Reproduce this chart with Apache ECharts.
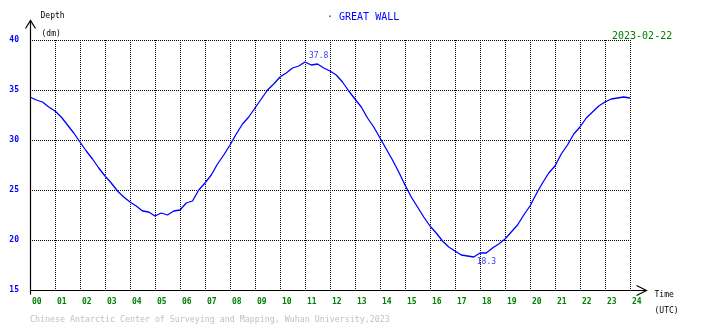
<!DOCTYPE html>
<html>
<head>
<meta charset="utf-8">
<style>
  html, body { margin: 0; padding: 0; background: #fff; }
  #chart { width: 710px; height: 328px; }
</style>
<script src="https://cdn.jsdelivr.net/npm/echarts@6/dist/echarts.min.js"></script>
</head>
<body>
<div id="chart"></div>
<script>
// Tide gauge record, Great Wall Station, 2023-02-22 (UTC)
const stationName = 'GREAT WALL';
const dateLabel = '2023-02-22';
const creditLine = 'Chinese Antarctic Center of Surveying and Mapping, Wuhan University,2023';

// time of each reading, hours UTC
const hours = [
  0, 0.25, 0.5, 0.75, 1, 1.25, 1.5, 1.75, 2, 2.25, 2.5, 2.75,
  3, 3.25, 3.5, 3.75, 4, 4.25, 4.5, 4.75, 5, 5.25, 5.5, 5.75,
  6, 6.25, 6.5, 6.75, 7, 7.25, 7.5, 7.75, 8, 8.25, 8.5, 8.75,
  9, 9.25, 9.5, 9.75, 10, 10.25, 10.5, 10.75, 11, 11.25, 11.5, 11.75,
  12, 12.25, 12.5, 12.75, 13, 13.25, 13.5, 13.75, 14, 14.25, 14.5, 14.75,
  15, 15.25, 15.5, 15.75, 16, 16.25, 16.5, 16.75, 17, 17.25, 17.5, 17.75,
  18, 18.25, 18.5, 18.75, 19, 19.25, 19.5, 19.75, 20, 20.25, 20.5, 20.75,
  21, 21.25, 21.5, 21.75, 22, 22.25, 22.5, 22.75, 23, 23.25, 23.5, 23.75, 24
];

// water depth, dm
const depth = [
  34.3, 34.0, 33.8, 33.3, 32.9, 32.3, 31.5, 30.7, 29.8, 28.9, 28.1, 27.2,
  26.4, 25.7, 24.9, 24.3, 23.8, 23.4, 22.9, 22.8, 22.4, 22.7, 22.5, 22.9,
  23.0, 23.7, 23.9, 25.0, 25.7, 26.5, 27.6, 28.5, 29.5, 30.6, 31.6, 32.3,
  33.2, 34.1, 35.0, 35.6, 36.3, 36.7, 37.2, 37.4, 37.8, 37.5, 37.6, 37.2,
  36.9, 36.5, 35.8, 34.9, 34.1, 33.3, 32.2, 31.3, 30.2, 29.1, 28.0, 26.8,
  25.5, 24.3, 23.3, 22.3, 21.4, 20.7, 19.9, 19.3, 18.9, 18.5, 18.4, 18.3,
  18.7, 18.7, 19.2, 19.6, 20.1, 20.8, 21.5, 22.5, 23.4, 24.6, 25.7, 26.7,
  27.4, 28.6, 29.5, 30.6, 31.3, 32.2, 32.8, 33.4, 33.8, 34.1, 34.2, 34.3, 34.2
];

// axis ranges and tick steps
const xMin = 0, xMax = 24, xStep = 1;
const yMin = 15, yMax = 40, yStep = 5;

const MONO = '"DejaVu Sans Mono", "Liberation Mono", monospace';
const BLUE = '#0000ff';
const GREEN = '#008000';

const series = hours.map((h, i) => [h, depth[i]]);

// extremes of the record, labelled on the curve
let iMax = 0, iMin = 0;
depth.forEach((v, i) => {
  if (v > depth[iMax]) iMax = i;
  if (v < depth[iMin]) iMin = i;
});

const chart = echarts.init(document.getElementById('chart'), null, { renderer: 'canvas' });

chart.setOption({
  animation: false,
  backgroundColor: '#ffffff',
  grid: { left: 30, right: 80, top: 40, bottom: 38, containLabel: false },
  xAxis: {
    type: 'value',
    min: xMin, max: xMax, interval: xStep,
    axisLine: { show: false },
    axisTick: { show: false },
    axisLabel: {
      show: true,
      showMinLabel: true, showMaxLabel: true,
      color: GREEN, fontFamily: MONO, fontSize: 8, fontWeight: 'bold',
      align: 'left', margin: 8, padding: [0, 0, 0, 2],
      formatter: v => String(v).padStart(2, '0')
    },
    splitLine: { show: true, lineStyle: { color: '#000', width: 1, type: [1, 1] } }
  },
  yAxis: {
    type: 'value',
    min: yMin, max: yMax, interval: yStep,
    axisLine: { show: false },
    axisTick: { show: false },
    axisLabel: {
      show: true,
      color: BLUE, fontFamily: MONO, fontSize: 8, fontWeight: 'bold',
      margin: 11, padding: [0, 0, 4, 0],
      formatter: v => String(v)
    },
    splitLine: { show: true, lineStyle: { color: '#000', width: 1, type: [1, 1] } }
  },
  series: [
    {
      type: 'line',
      data: series,
      showSymbol: false,
      symbol: 'none',
      lineStyle: { color: BLUE, width: 1.3 },
      z: 3
    },
    {
      type: 'scatter',
      symbolSize: 0,
      silent: true,
      data: [
        { value: series[iMax], label: { position: [4, -10] } },
        { value: series[iMin], label: { position: [3, 1] } }
      ],
      label: {
        show: true,
        color: BLUE, fontFamily: MONO, fontSize: 8,
        align: 'left', verticalAlign: 'top',
        formatter: p => p.value[1].toFixed(1)
      },
      z: 4
    }
  ]
});

// axes with open arrowheads, extending past the plot area
function drawFrame() {
  const origin = chart.convertToPixel({ gridIndex: 0 }, [xMin, yMin]);
  const corner = chart.convertToPixel({ gridIndex: 0 }, [xMax, yMax]);
  const ox = Math.round(origin[0]) + 0.5;
  const oy = Math.round(origin[1]) + 0.5;
  const yTip = Math.round(corner[1]) - 20 + 0.5;
  const xTip = Math.round(corner[0]) + 16 + 0.5;
  const axisStyle = { stroke: '#000', lineWidth: 1.2, fill: null };
  const txt = (x, y, text, color, size, align) => ({
    type: 'text', x, y, z: 10,
    style: { text, fill: color, font: size + 'px ' + MONO, textAlign: align || 'left', textVerticalAlign: 'middle' }
  });

  chart.setOption({
    graphic: [
      { type: 'polyline', z: 5, shape: { points: [[ox, oy + 4], [ox, yTip]] }, style: axisStyle },
      { type: 'polyline', z: 5, shape: { points: [[ox - 5, yTip + 8], [ox, yTip], [ox + 5, yTip + 8]] }, style: axisStyle },
      { type: 'polyline', z: 5, shape: { points: [[ox, oy], [xTip, oy]] }, style: axisStyle },
      { type: 'polyline', z: 5, shape: { points: [[xTip - 10, oy - 5], [xTip, oy], [xTip - 10, oy + 5]] }, style: axisStyle },

      txt(ox + 10, 16, 'Depth', '#000', 8),
      txt(ox + 11, 34, '(dm)', '#000', 8),
      txt(xTip + 8, oy + 4, 'Time', '#000', 8),
      txt(xTip + 8, oy + 20, '(UTC)', '#000', 8),

      txt(327, 17, '\u00b7 ' + stationName, BLUE, 10),
      txt(612, 36, dateLabel, GREEN, 10),
      txt(30, 320, creditLine, '#c0c0c0', 8.3)
    ]
  });
}
drawFrame();
</script>
</body>
</html>
